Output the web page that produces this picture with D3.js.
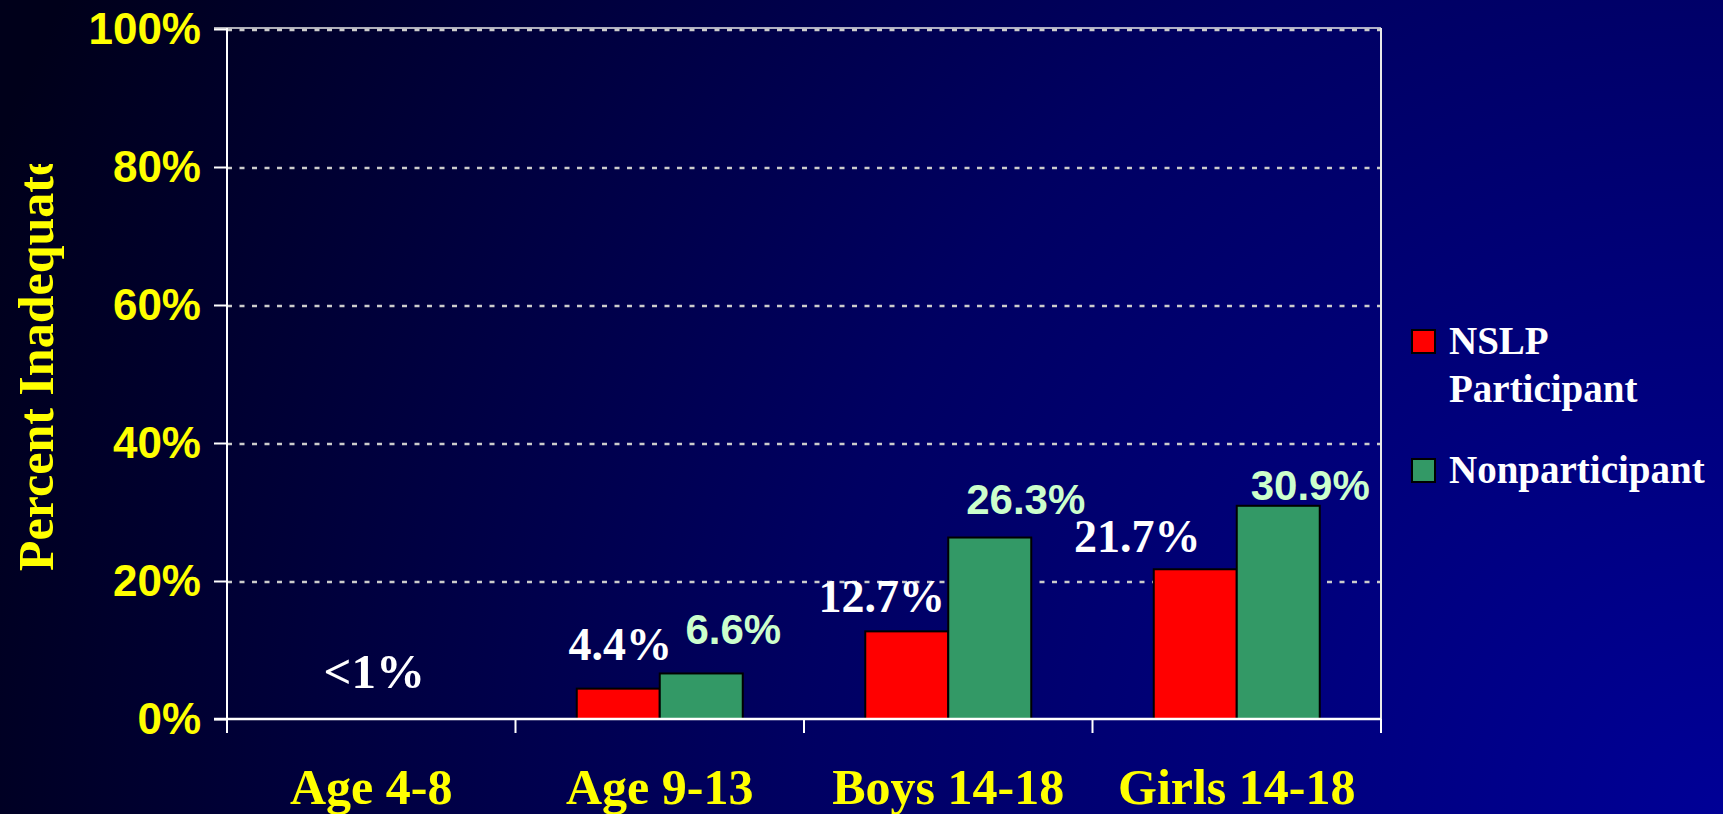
<!DOCTYPE html>
<html>
<head>
<meta charset="utf-8">
<script src="https://cdn.jsdelivr.net/npm/d3@7"></script>
<style>
  html, body { margin: 0; padding: 0; overflow: hidden; background: #000030; }
</style>
</head>
<body>
<div id="chart"></div>
<script>
// Data
const categories = ["Age 4-8", "Age 9-13", "Boys 14-18", "Girls 14-18"];
const seriesNames = ["NSLP Participant", "Nonparticipant"];
const participant = [null, 4.4, 12.7, 21.7];
const nonparticipant = [null, 6.6, 26.3, 30.9];
const yTicks = [0, 20, 40, 60, 80, 100];
const smallNote = "<1%"; // Age 4-8 has no visible bars

// Hand placed label nudges (the slide moved them by hand), [dx, dy]
const redNudge = [[0, 0], [2, -29], [-25, -19], [-58, -17]];
const greenNudge = [[0, 0], [32, -29], [36, -24], [32, -6]];

const width = 1723;
const height = 814;
const margin = { left: 227, right: 342, top: 29, bottom: 95 };

const svg = d3.select("#chart")
    .append("svg")
    .attr("width", width)
    .attr("height", height);

// Background gradient, dark at the left, bright blue in the bottom right
const defs = svg.append("defs");
const grad = defs.append("radialGradient")
    .attr("id", "bg")
    .attr("gradientUnits", "userSpaceOnUse")
    .attr("cx", width).attr("cy", height).attr("r", 1850);
grad.append("stop").attr("offset", "0%").attr("stop-color", "#000096");
grad.append("stop").attr("offset", "50%").attr("stop-color", "#000062");
grad.append("stop").attr("offset", "100%").attr("stop-color", "#00001a");

defs.append("clipPath").attr("id", "titleClip")
    .append("rect").attr("x", 0).attr("y", 164).attr("width", 220).attr("height", 650);

svg.append("rect")
    .attr("width", width).attr("height", height)
    .attr("fill", "url(#bg)");

const x0 = d3.scaleBand()
    .domain(categories)
    .range([margin.left, width - margin.right])
    .padding(0);

const x1 = d3.scaleBand()
    .domain(seriesNames)
    .range([0, x0.bandwidth()])
    .paddingInner(0)
    .paddingOuter(0.738);

const y = d3.scaleLinear()
    .domain([0, 100])
    .range([height - margin.bottom, margin.top]);

const plotLeft = margin.left;
const plotRight = width - margin.right;

const serif = "'Liberation Serif', 'Times New Roman', serif";
const sans = "'Liberation Sans', Arial, sans-serif";

// Grid lines
svg.append("g")
    .selectAll("line")
    .data(yTicks.filter(d => d > 0))
    .enter()
    .append("line")
    .attr("x1", plotLeft).attr("x2", plotRight)
    .attr("y1", d => y(d) + 1).attr("y2", d => y(d) + 1)
    .attr("stroke", "#cccccc")
    .attr("stroke-width", 2.5)
    .attr("stroke-dasharray", "5,7.5");

// Top and right border of the plot area
svg.append("line")
    .attr("x1", plotLeft - 13).attr("x2", plotRight)
    .attr("y1", y(100) - 1).attr("y2", y(100) - 1)
    .attr("stroke", "#e8e8e8").attr("stroke-width", 1.5);
svg.append("line")
    .attr("x1", plotRight).attr("x2", plotRight)
    .attr("y1", y(100) - 1).attr("y2", y(0) + 14)
    .attr("stroke", "#e8e8e8").attr("stroke-width", 2);

// Y axis
const yAxis = svg.append("g")
    .attr("transform", `translate(${plotLeft},0)`)
    .call(d3.axisLeft(y).tickValues(yTicks).tickSize(13).tickPadding(13)
        .tickFormat(d => d + "%"));
yAxis.select(".domain").remove();
yAxis.selectAll(".tick line").attr("stroke", "#ffffff").attr("stroke-width", 2);
yAxis.selectAll(".tick text")
    .attr("fill", "#ffff00")
    .attr("font-family", sans)
    .attr("font-weight", "bold")
    .attr("font-size", 44)
    .attr("dy", "0.34em");
svg.append("line")
    .attr("x1", plotLeft).attr("x2", plotLeft)
    .attr("y1", y(100) - 1).attr("y2", y(0) + 14)
    .attr("stroke", "#ffffff").attr("stroke-width", 2);

// Bars
const groups = svg.append("g")
    .selectAll("g")
    .data(categories)
    .enter()
    .append("g")
    .attr("transform", d => `translate(${x0(d)},0)`);

const barData = (c, i) => [
    { s: seriesNames[0], v: participant[i], fill: "#ff0000" },
    { s: seriesNames[1], v: nonparticipant[i], fill: "#339966" }
].filter(b => b.v !== null);

groups.selectAll("rect")
    .data((c, i) => barData(c, i))
    .enter()
    .append("rect")
    .attr("x", d => x1(d.s))
    .attr("width", x1.bandwidth())
    .attr("y", d => y(d.v))
    .attr("height", d => y(0) - y(d.v))
    .attr("fill", d => d.fill)
    .attr("stroke", "#000000")
    .attr("stroke-width", 2);

// X axis
svg.append("line")
    .attr("x1", plotLeft - 13).attr("x2", plotRight)
    .attr("y1", y(0)).attr("y2", y(0))
    .attr("stroke", "#ffffff").attr("stroke-width", 2.5);
const xBounds = categories.map(c => x0(c)).concat([plotRight]);
svg.append("g")
    .selectAll("line")
    .data(xBounds)
    .enter()
    .append("line")
    .attr("x1", d => d).attr("x2", d => d)
    .attr("y1", y(0)).attr("y2", y(0) + 14)
    .attr("stroke", "#ffffff").attr("stroke-width", 2);

svg.append("g")
    .selectAll("text")
    .data(categories)
    .enter()
    .append("text")
    .attr("x", d => x0(d) + x0.bandwidth() / 2)
    .attr("y", 804)
    .attr("text-anchor", "middle")
    .attr("fill", "#ffff00")
    .attr("font-family", serif)
    .attr("font-weight", "bold")
    .attr("font-size", 50)
    .text(d => d);

// Value labels
categories.forEach((c, i) => {
    if (participant[i] !== null) {
        svg.append("text")
            .attr("x", x0(c) + x1(seriesNames[0]) + x1.bandwidth() / 2 + redNudge[i][0])
            .attr("y", y(participant[i]) + redNudge[i][1])
            .attr("text-anchor", "middle")
            .attr("fill", "#ffffff")
            .attr("font-family", serif)
            .attr("font-weight", "bold")
            .attr("font-size", 46)
            .text(participant[i].toFixed(1) + "%");
    }
    if (nonparticipant[i] !== null) {
        svg.append("text")
            .attr("x", x0(c) + x1(seriesNames[1]) + x1.bandwidth() / 2 + greenNudge[i][0])
            .attr("y", y(nonparticipant[i]) + greenNudge[i][1])
            .attr("text-anchor", "middle")
            .attr("fill", "#ccffcc")
            .attr("font-family", sans)
            .attr("font-weight", "bold")
            .attr("font-size", 42)
            .text(nonparticipant[i].toFixed(1) + "%");
    }
});

svg.append("text")
    .attr("x", x0(categories[0]) + x0.bandwidth() / 2 + 3)
    .attr("y", y(0) - 31)
    .attr("text-anchor", "middle")
    .attr("fill", "#ffffff")
    .attr("font-family", serif)
    .attr("font-weight", "bold")
    .attr("font-size", 49)
    .text(smallNote);

// Y title, cut off at the top as on the slide
svg.append("g")
    .attr("clip-path", "url(#titleClip)")
    .append("text")
    .attr("transform", "translate(53,571) rotate(-90)")
    .attr("text-anchor", "start")
    .attr("fill", "#ffff00")
    .attr("font-family", serif)
    .attr("font-weight", "bold")
    .attr("font-size", 50)
    .text("Percent Inadequate");

// Legend
const legendColors = ["#ff0000", "#339966"];
const legendLines = [["NSLP", "Participant"], ["Nonparticipant"]];
const legendTop = [330, 459];
const legend = svg.append("g");
seriesNames.forEach((s, i) => {
    legend.append("rect")
        .attr("x", 1412).attr("y", legendTop[i])
        .attr("width", 23).attr("height", 23)
        .attr("fill", legendColors[i])
        .attr("stroke", "#000000").attr("stroke-width", 2);
    const t = legend.append("text")
        .attr("x", 1449).attr("y", legendTop[i] + 24)
        .attr("fill", "#ffffff")
        .attr("font-family", serif)
        .attr("font-weight", "bold")
        .attr("font-size", 39);
    legendLines[i].forEach((line, j) => {
        t.append("tspan")
            .attr("x", 1449)
            .attr("dy", j === 0 ? 0 : 48)
            .text(line);
    });
});
</script>
</body>
</html>
